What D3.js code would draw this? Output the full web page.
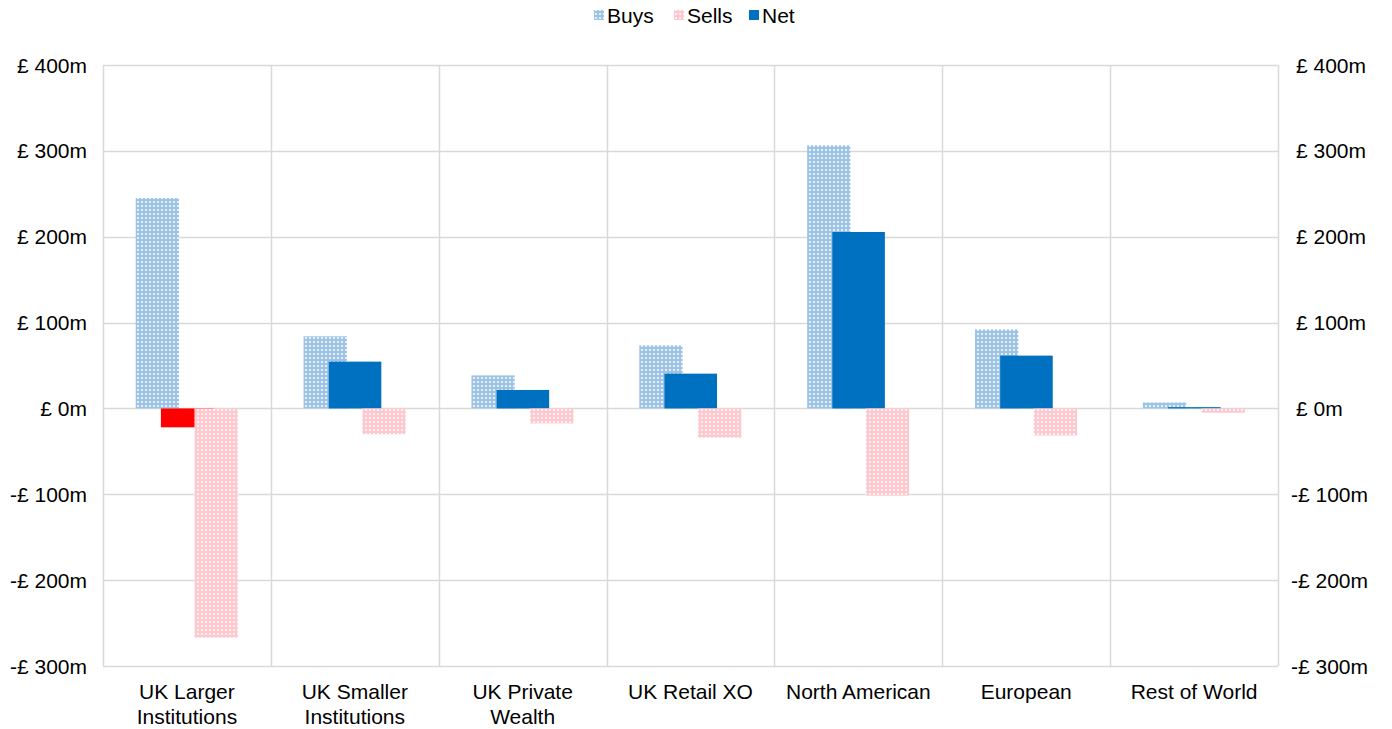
<!DOCTYPE html>
<html>
<head>
<meta charset="utf-8">
<script src="https://cdn.jsdelivr.net/npm/d3@7"></script>
<style>
  body { margin: 0; background: #fff; }
  text { font-family: "Liberation Sans", Arial, sans-serif; fill: #000; }
</style>
</head>
<body>
<svg id="chart" width="1392" height="729"></svg>
<script>
const categories = [["UK Larger","Institutions"],["UK Smaller","Institutions"],["UK Private","Wealth"],["UK Retail XO"],["North American"],["European"],["Rest of World"]];
const buys  = [245, 84, 38.5, 73.5, 306.5, 92, 7];
const sells = [-267, -30, -17.5, -34, -101.5, -31.5, -5];
const net   = [-22, 54.5, 21.5, 40.5, 205.5, 61.5, 1.5];
const yTicks = [-300, -200, -100, 0, 100, 200, 300, 400];
const seriesNames = ["Buys", "Sells", "Net"];

const svg = d3.select("#chart");
const pLeft = 103, pRight = 1278, pTop = 65, pBottom = 666;
const FS = 21;

const defs = svg.append("defs");
function pat(id, color) {
  const p = defs.append("pattern").attr("id", id).attr("patternUnits", "userSpaceOnUse")
    .attr("width", 4).attr("height", 4);
  p.append("rect").attr("width", 4).attr("height", 4).attr("fill", color);
  p.append("rect").attr("x", 1).attr("y", 1).attr("width", 2).attr("height", 2).attr("fill", "#fff").attr("opacity", 0.75);
}
pat("pBuys", "#9DC3E6");
pat("pSells", "#FFC7CE");

const x = d3.scaleBand().domain(d3.range(categories.length)).range([pLeft, pRight]).padding(0);
const y = d3.scaleLinear().domain([-300, 400]).range([pBottom, pTop]);
const bw = x.bandwidth();

// gridlines
const g = svg.append("g");
g.selectAll("line.h").data(yTicks).join("line")
  .attr("x1", pLeft).attr("x2", pRight)
  .attr("y1", d => Math.round(y(d)) + 0.5).attr("y2", d => Math.round(y(d)) + 0.5)
  .attr("stroke", "#d9d9d9").attr("stroke-width", 1.5);
const bounds = d3.range(categories.length + 1).map(i => pLeft + i * bw);
g.selectAll("line.v").data(bounds).join("line")
  .attr("x1", d => Math.round(d) + 0.5).attr("x2", d => Math.round(d) + 0.5)
  .attr("y1", pTop).attr("y2", pBottom)
  .attr("stroke", "#d9d9d9").attr("stroke-width", 1.5);

// bars
const bars = svg.append("g");
const fmtRect = (sel, vals, off, w, fill) => sel.append("g").selectAll("rect").data(vals).join("rect")
  .attr("x", (d, i) => x(i) + bw * off)
  .attr("width", bw * w)
  .attr("y", d => y(Math.max(0, d)))
  .attr("height", d => Math.max(1, Math.abs(y(d) - y(0))))
  .attr("fill", fill);
fmtRect(bars, buys, 0.195, 0.258, "url(#pBuys)");
fmtRect(bars, net, 0.345, 0.313, d => d < 0 ? "#FF0000" : "#0070C0");
fmtRect(bars, sells, 0.545, 0.258, "url(#pSells)");

// axes labels
const fmt = d => (d < 0 ? "-£ " : "£ ") + Math.abs(d) + "m";
svg.append("g").selectAll("text").data(yTicks).join("text")
  .attr("x", 87).attr("y", d => y(d) + 7.5).attr("text-anchor", "end")
  .attr("font-size", FS).text(fmt);
svg.append("g").selectAll("text").data(yTicks).join("text")
  .attr("x", d => d < 0 ? 1291 : 1296).attr("y", d => y(d) + 7.5).attr("text-anchor", "start")
  .attr("font-size", FS).text(fmt);

// category labels
const cl = svg.append("g").selectAll("text").data(categories).join("text")
  .attr("text-anchor", "middle").attr("font-size", FS)
  .attr("transform", (d, i) => `translate(${x(i) + bw / 2},699)`);
cl.selectAll("tspan").data(d => d).join("tspan")
  .attr("x", 0).attr("dy", (d, i) => i === 0 ? 0 : 25).text(d => d);

// legend
const legend = svg.append("g");
const items = [
  { name: seriesNames[0], fill: "url(#pBuys)", x: 594 },
  { name: seriesNames[1], fill: "url(#pSells)", x: 674 },
  { name: seriesNames[2], fill: "#0070C0", x: 749 }
];
const li = legend.selectAll("g").data(items).join("g").attr("transform", d => `translate(${d.x},0)`);
li.append("rect").attr("x", 0).attr("y", 10).attr("width", 10).attr("height", 10).attr("fill", d => d.fill);
li.append("text").attr("x", 13).attr("y", 22.5).attr("font-size", FS).text(d => d.name);
</script>
</body>
</html>
